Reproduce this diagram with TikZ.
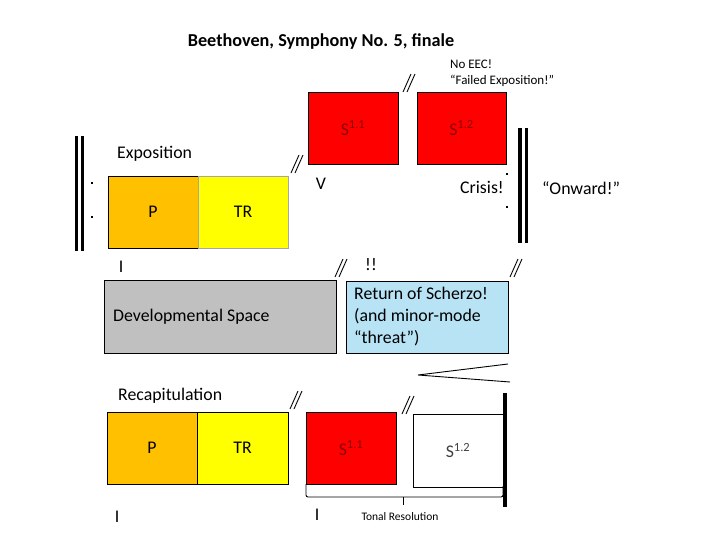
\documentclass[tikz,border=0pt]{standalone}
\usepackage{fontspec}
\setmainfont{Carlito}
\usetikzlibrary{calc}
\definecolor{porange}{HTML}{FFC000}
\definecolor{tryellow}{HTML}{FFFF00}
\definecolor{sred}{HTML}{FF0000}
\definecolor{devgray}{HTML}{C0C0C0}
\definecolor{lblue}{HTML}{B7E3F5}
\definecolor{labred}{HTML}{8E0000}
\definecolor{trline}{HTML}{A6A6A6}
\tikzset{
  box/.style={draw=black, line width=0.9pt, inner sep=0pt, outer sep=0pt,
    anchor=north west, font=\fontsize{17.8}{22}\selectfont},
  txt/.style={font=\fontsize{17.8}{22}\selectfont, inner sep=0pt},
  smalltxt/.style={font=\fontsize{13}{16}\selectfont, inner sep=0pt},
  tinytxt/.style={font=\fontsize{11.5}{14}\selectfont, inner sep=0pt},
  bar/.style={line width=3.4pt},
  dot/.style={fill=black},
  dslash/.pic={\draw[line width=0.9pt] (-6,9) -- (2,-9) (-2,9) -- (6,-9);}
}
\newcommand{\Slab}[1]{S\textsuperscript{#1}}
\begin{document}
\begin{tikzpicture}[x=1pt,y=-1pt]
\useasboundingbox (0,0) rectangle (720,540);
\fill[white] (0,0) rectangle (720,540);

% title
\node[txt, font=\fontsize{18.2}{22}\selectfont\bfseries] (title) at (321,42) {Beethoven, Symphony No. 5, finale};
\node[smalltxt, anchor=west] (noeec) at (450,64) {No EEC!};
\node[smalltxt, anchor=west] (failed) at (450,81) {“Failed Exposition!”};

% exposition
\node[txt, anchor=west] (expo) at (117,154) {Exposition};
\node[box, fill=porange, minimum width=90, minimum height=72] (eP) at (108,176) {P};
\node[box, draw=trline, fill=tryellow, minimum width=90, minimum height=72] (eTR) at (198,176) {TR};
\node[box, fill=sred, text=labred, minimum width=90, minimum height=72] (eS11) at (308,92) {\Slab{1.1}};
\node[box, fill=sred, text=labred, minimum width=89, minimum height=72] (eS12) at (417,92) {\Slab{1.2}};
\node[txt] (eI) at (121,267) {I};
\node[txt] (eV) at (321,184) {V};
\node[txt, anchor=east] (crisis) at (504,187) {Crisis!};
\node[txt, anchor=west] (onward) at (542,188) {“Onward!”};
\node[txt] (bang) at (371,265) {!!};

% repeat signs
\draw[bar] (76.5,136) -- (76.5,251) (82.5,136) -- (82.5,251);
\fill[dot] (90.8,181.8) rectangle +(2.6,2.6);
\fill[dot] (90.8,215.8) rectangle +(2.6,2.6);
\draw[bar] (520,128) -- (520,243) (526.3,128) -- (526.3,243);
\fill[dot] (505.8,172.8) rectangle +(2.6,2.6);
\fill[dot] (505.8,205.8) rectangle +(2.6,2.6);

% development
\node[box, fill=devgray, minimum width=232, minimum height=73] (dev) at (104,280) {};
\node[txt, anchor=west] (devtxt) at ($(dev.west)+(9,0)$) {Developmental Space};
\node[box, fill=lblue, minimum width=162, minimum height=72] (scherzo) at (346,281) {};
\node[txt, anchor=west, align=left] (schtxt) at ($(scherzo.west)+(8,0)$) {Return of Scherzo!\\(and minor-mode\\“threat”)};

% wedge
\coordinate (wA) at (418,375);
\draw[line width=0.9pt] (508,364) -- (wA) -- (510,382);

% recapitulation
\node[txt, anchor=west] (recap) at (118,396) {Recapitulation};
\node[box, fill=porange, minimum width=90, minimum height=72] (rP) at (107,412) {P};
\node[box, fill=tryellow, minimum width=91, minimum height=72] (rTR) at (197,412) {TR};
\node[box, fill=sred, text=labred, minimum width=90, minimum height=72] (rS11) at (306,412) {\Slab{1.1}};
\node[box, fill=white, text=black!75, minimum width=90, minimum height=73] (rS12) at (413,414) {\Slab{1.2}};
\draw[line width=4pt] (505,393) -- (505,507);
\node[txt] (rI1) at (117,517) {I};
\node[txt] (rI2) at (317,515) {I};

% brace
\draw[line width=0.9pt, rounded corners=2pt] (rS11.south west) -- ++(0,13) -- (503,497) -- (503,486);
\draw[line width=0.9pt] (403,497) -- (403,505);
\node[tinytxt] (tonal) at (400,517) {Tonal Resolution};

% double slashes
\pic at (409,83) {dslash};
\pic at (297,164) {dslash};
\pic at (341,268) {dslash};
\pic at (516,268) {dslash};
\pic at (296,400) {dslash};
\pic at (408,405) {dslash};
\end{tikzpicture}
\end{document}
